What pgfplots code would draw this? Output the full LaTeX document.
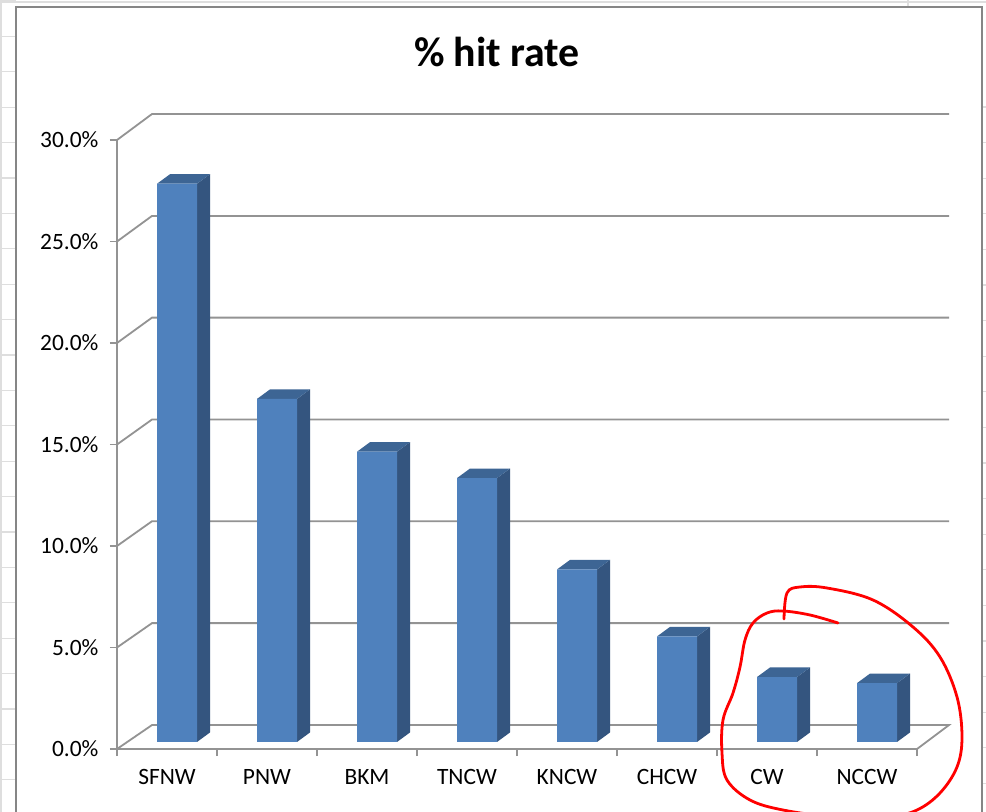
\documentclass[border=0pt]{standalone}
\usepackage{fontspec}
\setmainfont{Carlito}
\usepackage{pgfplots}
\pgfplotsset{compat=1.18}
\definecolor{barfront}{HTML}{4F81BD}
\definecolor{barside}{HTML}{34557F}
\definecolor{bartop}{HTML}{3D6594}
\definecolor{axgray}{HTML}{939393}
\definecolor{border}{HTML}{868686}
\definecolor{sheet}{HTML}{DEDEDE}

\begin{document}
\begin{tikzpicture}
\useasboundingbox (0,0) rectangle (986bp,812bp);
\fill[white] (0,0) rectangle (986bp,812bp);
% spreadsheet grid in the margins
\foreach \k in {0,...,23} {
  \draw[sheet, line width=1.2bp] (0,{(811-35.4*\k)*1bp}) -- (16bp,{(811-35.4*\k)*1bp});
  \draw[sheet, line width=1.2bp] (982bp,{(705-35.6*\k)*1bp}) -- (986bp,{(705-35.6*\k)*1bp});
}
\draw[sheet, line width=1.2bp] (1bp,0) -- (1bp,812bp);
\draw[sheet, line width=1.2bp] (0,810bp) -- (986bp,810bp);
\draw[sheet, line width=1.2bp] (908bp,805bp) -- (908bp,812bp);
% chart border
\draw[border, line width=1.6bp] (16bp,-5bp) -- (16bp,805bp) -- (982bp,805bp) -- (982bp,-5bp);

% title
\node[font=\fontsize{42}{48}\selectfont\bfseries] at (497bp,760bp) {\% hit rate};

% walls, floor and value axis
\begin{axis}[
  at={(117bp,63bp)}, anchor=south west,
  scale only axis, width=800bp, height=609bp,
  xmin=-0.5, xmax=7.5, ymin=0, ymax=30,
  clip=false,
  axis lines*=left,
  axis line style={axgray, line width=1.8bp},
  tick align=outside, major tick length=7bp,
  tick style={axgray, line width=1.8bp},
  xtick={-0.5,0.5,1.5,2.5,3.5,4.5,5.5,6.5,7.5},
  xticklabels={},
  extra x ticks={0,1,2,3,4,5,6,7},
  extra x tick labels={SFNW,PNW,BKM,TNCW,KNCW,CHCW,CW,NCCW},
  extra x tick style={major tick length=0pt, tick label style={yshift=-17bp}},
  ytick={0,5,10,15,20,25,30},
  yticklabels={0.0\%,5.0\%,10.0\%,15.0\%,20.0\%,25.0\%,30.0\%},
  yticklabel style={xshift=-8bp},
  tick label style={font=\fontsize{23.5}{27}\selectfont, text=black},
  /pgf/number format/assume math mode=true,
]
\addplot[axgray, line width=1.8bp] coordinates {(-0.5,0) (-0.15,1.18) (7.82,1.18) (7.5,0)};
\addplot[axgray, line width=1.8bp] coordinates {(-0.5,5) (-0.15,6.20) (7.82,6.20)};
\addplot[axgray, line width=1.8bp] coordinates {(-0.5,10) (-0.15,11.22) (7.82,11.22)};
\addplot[axgray, line width=1.8bp] coordinates {(-0.5,15) (-0.15,16.23) (7.82,16.23)};
\addplot[axgray, line width=1.8bp] coordinates {(-0.5,20) (-0.15,21.25) (7.82,21.25)};
\addplot[axgray, line width=1.8bp] coordinates {(-0.5,25) (-0.15,26.26) (7.82,26.26)};
\addplot[axgray, line width=1.8bp] coordinates {(-0.5,30) (-0.15,31.28) (7.82,31.28)};
\end{axis}

% bars (standing slightly behind the front edge of the floor)
\begin{axis}[
  at={(117bp,63bp)}, anchor=south west,
  scale only axis, width=800bp, height=609bp,
  xmin=-0.5, xmax=7.5, ymin=-0.345, ymax=29.655,
  clip=false, hide axis,
]
% side faces
\addplot[fill=barside, draw=none] coordinates {(0.3,0) (0.43,0.47) (0.43,27.97) (0.3,27.5)};
\addplot[fill=barside, draw=none] coordinates {(1.3,0) (1.43,0.47) (1.43,17.37) (1.3,16.9)};
\addplot[fill=barside, draw=none] coordinates {(2.3,0) (2.43,0.47) (2.43,14.77) (2.3,14.3)};
\addplot[fill=barside, draw=none] coordinates {(3.3,0) (3.43,0.47) (3.43,13.47) (3.3,13.0)};
\addplot[fill=barside, draw=none] coordinates {(4.3,0) (4.43,0.47) (4.43,8.97) (4.3,8.5)};
\addplot[fill=barside, draw=none] coordinates {(5.3,0) (5.43,0.47) (5.43,5.67) (5.3,5.2)};
\addplot[fill=barside, draw=none] coordinates {(6.3,0) (6.43,0.47) (6.43,3.67) (6.3,3.2)};
\addplot[fill=barside, draw=none] coordinates {(7.3,0) (7.43,0.47) (7.43,3.37) (7.3,2.9)};
% top faces
\addplot[fill=bartop, draw=none] coordinates {(-0.1,27.5) (0.3,27.5) (0.43,27.97) (0.03,27.97)};
\addplot[fill=bartop, draw=none] coordinates {(0.9,16.9) (1.3,16.9) (1.43,17.37) (1.03,17.37)};
\addplot[fill=bartop, draw=none] coordinates {(1.9,14.3) (2.3,14.3) (2.43,14.77) (2.03,14.77)};
\addplot[fill=bartop, draw=none] coordinates {(2.9,13.0) (3.3,13.0) (3.43,13.47) (3.03,13.47)};
\addplot[fill=bartop, draw=none] coordinates {(3.9,8.5) (4.3,8.5) (4.43,8.97) (4.03,8.97)};
\addplot[fill=bartop, draw=none] coordinates {(4.9,5.2) (5.3,5.2) (5.43,5.67) (5.03,5.67)};
\addplot[fill=bartop, draw=none] coordinates {(5.9,3.2) (6.3,3.2) (6.43,3.67) (6.03,3.67)};
\addplot[fill=bartop, draw=none] coordinates {(6.9,2.9) (7.3,2.9) (7.43,3.37) (7.03,3.37)};
% front faces
\addplot[ybar, bar width=0.4, bar shift=10bp, fill=barfront, draw=none] coordinates {
  (0,27.5) (1,16.9) (2,14.3) (3,13.0) (4,8.5) (5,5.2) (6,3.2) (7,2.9)};
\end{axis}

% hand-drawn red circle
\draw[red, line width=2.8bp, line cap=round, line join=round]
  plot[smooth, tension=0.6] coordinates {
  (838bp,189bp) (810bp,197bp) (783bp,201bp) (767bp,199bp) (753bp,189bp)
  (745bp,172bp) (740bp,145bp) (733bp,119bp) (723bp,92bp) (722bp,59bp)
  (727bp,32bp) (750bp,12bp) (783bp,2bp) (830bp,-4bp) (890bp,-4bp)
  (917bp,2bp) (940bp,19bp) (957bp,45bp) (962bp,75bp) (957bp,115bp)
  (940bp,155bp) (913bp,185bp) (873bp,212bp) (827bp,224bp) (800bp,225bp)
  (787bp,219bp) (784bp,193bp)};
\end{tikzpicture}
\end{document}
